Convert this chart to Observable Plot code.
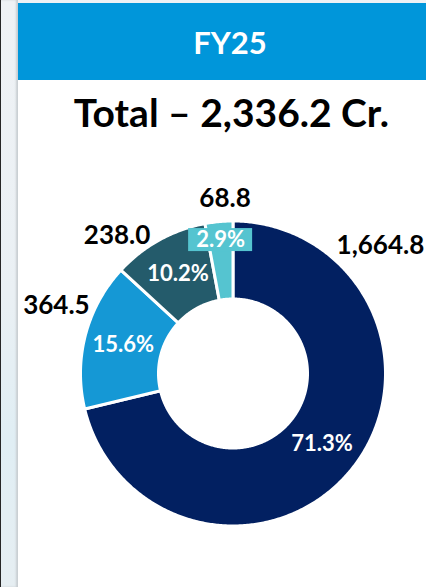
<!DOCTYPE html>
<html>
<head>
<meta charset="utf-8">
<script src="https://cdn.jsdelivr.net/npm/d3@7"></script>
<script src="https://cdn.jsdelivr.net/npm/@observablehq/plot@0.6"></script>
<style>
  html, body { margin: 0; padding: 0; background: #ffffff; }
  body { width: 426px; height: 587px; position: relative; overflow: hidden; font-family: Lato, "Open Sans", sans-serif; }
  #strip { position: absolute; left: 0; top: 0; width: 17px; height: 587px;
    border-left: 1px solid #262626;
    background: linear-gradient(to bottom, #eff2f5 0%, #eaf0f4 50%, #e0eef4 75%, #e6eef2 100%);
    box-shadow: inset -2px 0 2px #c9ced2; }
  #topband { position: absolute; left: 18px; top: 0; width: 408px; height: 3px; background: #eef2f5; }
  #header { position: absolute; left: 18px; top: 3px; width: 408px; height: 77px; background: #0096da; }
  .t { position: absolute; white-space: nowrap; transform: translateX(-50%); font-weight: 700; }
  #fy { left: 230px; top: 27px; font-size: 31px; line-height: 30px; color: #ffffff; }
  #total { left: 231.5px; top: 93px; font-size: 39px; line-height: 38px; color: #000000; }
  #chart { position: absolute; left: 18px; top: 140px; }
</style>
</head>
<body>
<div id="strip"></div>
<div id="topband"></div>
<div id="header"></div>
<div class="t" id="fy">FY25</div>
<div class="t" id="total">Total – 2,336.2 Cr.</div>
<div id="chart"></div>
<script>
// ---- data ----
const categories = ["A", "B", "C", "D"];
const values = [1664.8, 364.5, 238.0, 68.8];
const valueLabels = ["1,664.8", "364.5", "238.0", "68.8"];
const shareLabels = ["71.3%", "15.6%", "10.2%", "2.9%"];
const colors = ["#022061", "#1598d5", "#245b6b", "#55c4d0"];

// ---- layout (pixel units, 1:1 with the SVG) ----
const W = 408, H = 447;
const R = 152.5, r0 = 74.5;
// polar placement of outside value labels (deg clockwise from top, radius)
const valueLabelPolar = {A: [49.1, 195], B: [290.9, 189], C: [319.9, 180], D: [357.4, 175]};
const shareRadius = {A: 113.5, B: 113.5, C: 113.5, D: 134};

const total = d3.sum(values);
const pie = d3.pie().sort(null).value(d => d.value)(categories.map((c, i) => ({cat: c, value: values[i], i})));

const poly = [];
for (const s of pie) {
  const n = Math.max(4, Math.ceil((s.endAngle - s.startAngle) / 0.01));
  for (let k = 0; k <= n; k++) {
    const a = s.startAngle + (s.endAngle - s.startAngle) * k / n;
    poly.push({cat: s.data.cat, x: R * Math.sin(a), y: R * Math.cos(a)});
  }
  for (let k = n; k >= 0; k--) {
    const a = s.startAngle + (s.endAngle - s.startAngle) * k / n;
    poly.push({cat: s.data.cat, x: r0 * Math.sin(a), y: r0 * Math.cos(a)});
  }
}

const shares = pie.map(s => {
  const a = (s.startAngle + s.endAngle) / 2;
  const rr = shareRadius[s.data.cat];
  return {cat: s.data.cat, label: shareLabels[s.data.i], x: rr * Math.sin(a), y: rr * Math.cos(a), small: s.data.value / total < 0.05};
});
const outs = categories.map((c, i) => {
  const [deg, rr] = valueLabelPolar[c];
  const a = deg * Math.PI / 180;
  return {cat: c, label: valueLabels[i], x: rr * Math.sin(a), y: rr * Math.cos(a)};
});
const boxes = shares.filter(d => d.small);

const cx = 214.5, cy = 233;
const chart = Plot.plot({
  width: W, height: H,
  margin: 0,
  x: {domain: [-cx, W - cx], axis: null},
  y: {domain: [-(H - cy), cy], axis: null},
  color: {domain: categories, range: colors},
  style: {background: "transparent", fontFamily: "Lato, 'Open Sans', sans-serif"},
  marks: [
    Plot.line(poly, {x: "x", y: "y", z: "cat", fill: "cat", stroke: "white", strokeWidth: 3, curve: "linear-closed"}),
    Plot.rect(boxes, {x1: d => d.x - 32, x2: d => d.x + 32, y1: d => d.y - 11.5, y2: d => d.y + 11.5, fill: "cat"}),
    Plot.text(shares, {x: "x", y: "y", text: "label", fill: "white", fontSize: 22, fontWeight: 700}),
    Plot.text(outs, {x: "x", y: "y", text: "label", fill: "black", fontSize: 26, fontWeight: 700})
  ]
});
document.getElementById("chart").appendChild(chart);
</script>
</body>
</html>
